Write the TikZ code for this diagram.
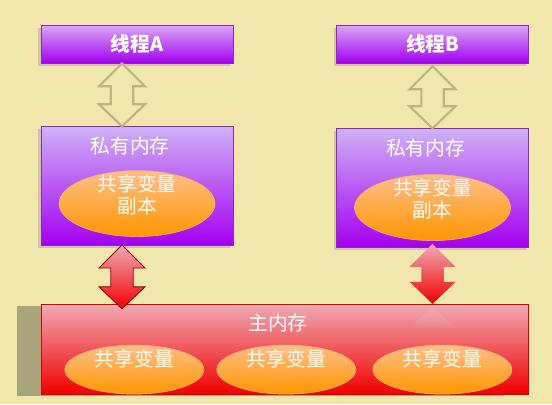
\documentclass[tikz,border=0pt]{standalone}
\usepackage{fontspec}
\newfontfamily\cjkfont{Noto Sans CJK SC}
\usepackage{tikz}
\usetikzlibrary{shapes.geometric, positioning, calc, shadows, fadings}

\definecolor{bgkhaki}{RGB}{241,230,172}
\definecolor{purpletop}{RGB}{218,168,247}
\definecolor{privtop}{RGB}{206,178,246}
\definecolor{purplebot}{RGB}{163,0,240}
\definecolor{purpleline}{RGB}{140,40,190}
\definecolor{redtop}{RGB}{240,170,180}
\definecolor{redmid}{RGB}{238,110,120}
\definecolor{redbot}{RGB}{240,0,0}
\definecolor{orangetop}{RGB}{255,190,135}
\definecolor{orangebot}{RGB}{255,150,0}
\definecolor{arrowline}{RGB}{190,180,128}
\definecolor{olivebox}{RGB}{170,164,122}

\tikzstyle{thread} = [rectangle, minimum width=4.8cm, minimum height=0.95cm, draw=purpleline, top color=purpletop, bottom color=purplebot, drop shadow={shadow xshift=-0.07cm, shadow yshift=-0.07cm, opacity=0.3}, text=white, font=\cjkfont\bfseries\fontsize{14}{16}\selectfont]
\tikzstyle{private} = [rectangle, minimum width=4.8cm, minimum height=2.975cm, draw=purpleline, top color=privtop, bottom color=purplebot, drop shadow={shadow xshift=-0.07cm, shadow yshift=-0.07cm, opacity=0.3}]
\tikzstyle{mainmem} = [rectangle, minimum width=12.175cm, minimum height=2.25cm, draw=red!85!black, top color=redtop, middle color=redmid, bottom color=redbot, drop shadow={shadow xshift=-0.6cm, shadow yshift=-0.05cm, fill=olivebox, opacity=1}]
\tikzstyle{copy} = [ellipse, minimum width=3.9cm, minimum height=1.65cm, draw=orange!60, top color=orangetop, bottom color=orangebot]
\tikzstyle{shared} = [ellipse, minimum width=3.475cm, minimum height=1.225cm, draw=orange!60, top color=orangetop, bottom color=orangebot]
\tikzstyle{whitetext} = [text=white, font=\cjkfont\fontsize{14}{15.6}\selectfont, align=center, inner sep=0pt]
\tikzstyle{hollow} = [draw=arrowline, line width=1.5pt, fill=bgkhaki]
\tikzstyle{redarrow} = [draw=red!60!black, line width=0.6pt, top color=redtop, bottom color=redbot]
\tikzstyle{softarrow} = [top color=redtop, bottom color=redbot]

% block arrow with two heads, from a top point to a bottom point
\newcommand{\blockarrow}[3]{%
  \path[#1] let \p1=(#2), \p2=(#3) in
    (\x1,\y1) -- (\x1+0.575cm,\y1-0.575cm) -- (\x1+0.28cm,\y1-0.575cm)
    -- (\x1+0.28cm,\y2+0.55cm) -- (\x1+0.575cm,\y2+0.55cm) -- (\x1,\y2)
    -- (\x1-0.575cm,\y2+0.55cm) -- (\x1-0.28cm,\y2+0.55cm)
    -- (\x1-0.28cm,\y1-0.575cm) -- (\x1-0.575cm,\y1-0.575cm) -- cycle;
}

\begin{document}
\begin{tikzpicture}
    \fill[bgkhaki] (0,0) rectangle (13.8,-10.1);

    \node (threadA) [thread] at (3.425,-1.1) {线程A};
    \node (threadB) [thread, right=2.575cm of threadA] {线程B};
    \node (privA) [private, below=1.575cm of threadA] {};
    \node (privB) [private, below=1.625cm of threadB] {};
    \node (main) [mainmem, below=1.45cm of privA.south west, anchor=north west] {};

    \node (copyA) [copy, above=0.225cm of privA.south] {};
    \node (copyB) [copy, above=0.175cm of privB.south] {};
    \node (privAtext) [whitetext, below=0.25cm of privA.north, xshift=-0.175cm] {私有内存};
    \node (privBtext) [whitetext, below=0.25cm of privB.north, xshift=-0.175cm] {私有内存};
    \node (copyAtext) [whitetext] at ([yshift=0.225cm]copyA.center) {共享变量\\副本};
    \node (copyBtext) [whitetext] at ([yshift=0.225cm]copyB.center) {共享变量\\副本};

    \node (maintext) [whitetext, below=0.25cm of main.north, xshift=-0.16cm] {主内存};
    \foreach \i/\x in {1/2.34, 2/6.14, 3/10.04} {
        \node (var\i) [shared, anchor=south] at ([xshift=\x cm]main.south west) {};
        \node (var\i text) [whitetext] at ([yshift=0.26cm]var\i.center) {共享变量};
    }

    % arrow ends
    \coordinate (a1) at ([xshift=-0.375cm]threadA.south);
    \coordinate (a2) at ([xshift=-0.375cm]privA.north);
    \coordinate (a3) at ([xshift=-0.375cm, yshift=0.02cm]privA.south);
    \coordinate (a4) at ($(a3 |- main.north)+(0,-0.125)$);
    \coordinate (b1) at ([yshift=-0.075cm]threadB.south);
    \coordinate (b2) at (privB.north);
    \coordinate (b3) at ([yshift=0.1cm]privB.south);
    \coordinate (b4) at (b3 |- main.north);

    \blockarrow{hollow}{a1}{a2}
    \blockarrow{hollow}{b1}{b2}
    \blockarrow{redarrow}{a3}{a4}
    \blockarrow{softarrow}{b3}{b4}
    % reflection under the right arrow
    \fill[redtop, opacity=0.7, path fading=south] ([yshift=-0.05cm]b4) -- ++(0.55,-0.55) -- ++(-1.1,0) -- cycle;
\end{tikzpicture}
\end{document}
